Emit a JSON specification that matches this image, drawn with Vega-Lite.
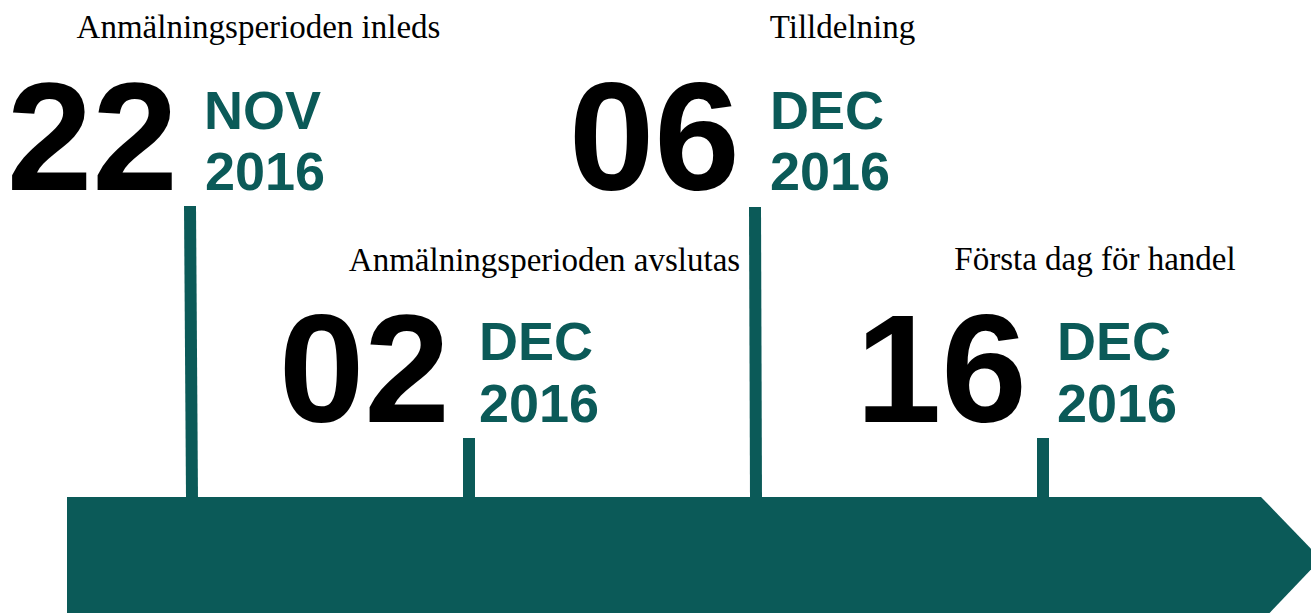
{
  "$schema": "https://vega.github.io/schema/vega-lite/v6.json",
  "width": 1311,
  "height": 613,
  "padding": 0,
  "autosize": {"type": "fit", "contains": "padding"},
  "background": "white",
  "config": {"view": {"stroke": null}},
  "datasets": {
    "arrow": [
      {"x": 67, "top": 497, "bottom": 622},
      {"x": 1261, "top": 497, "bottom": 622},
      {"x": 1321, "top": 559, "bottom": 559}
    ],
    "stems": [
      {"x": 190, "x2": 192, "y": 206, "y2": 498},
      {"x": 469, "x2": 469, "y": 438, "y2": 498},
      {"x": 755, "x2": 756, "y": 207, "y2": 498},
      {"x": 1043, "x2": 1043, "y": 438, "y2": 498}
    ],
    "labels": [
      {"x": 258.5, "y": 38, "text": "Anmälningsperioden inleds"},
      {"x": 544.5, "y": 271, "text": "Anmälningsperioden avslutas"},
      {"x": 842.5, "y": 38, "text": "Tilldelning"},
      {"x": 1095, "y": 270, "text": "Första dag för handel"}
    ],
    "days": [
      {"x": 178, "y": 190, "text": "22"},
      {"x": 450, "y": 422, "text": "02"},
      {"x": 740, "y": 190, "text": "06"},
      {"x": 1027, "y": 422, "text": "16"}
    ],
    "months": [
      {"x": 204, "y": 129, "text": "NOV"},
      {"x": 479, "y": 360, "text": "DEC"},
      {"x": 770, "y": 129, "text": "DEC"},
      {"x": 1057, "y": 360, "text": "DEC"}
    ],
    "years": [
      {"x": 205, "y": 190, "text": "2016"},
      {"x": 479, "y": 422, "text": "2016"},
      {"x": 770, "y": 190, "text": "2016"},
      {"x": 1057, "y": 422, "text": "2016"}
    ]
  },
  "layer": [
    {
      "data": {"name": "arrow"},
      "mark": {"type": "area", "color": "#0b5a58", "clip": true, "interpolate": "linear"},
      "encoding": {
        "x": {"field": "x", "type": "quantitative", "scale": {"domain": [0, 1311], "nice": false, "zero": false}, "axis": null},
        "y": {"field": "top", "type": "quantitative", "scale": {"domain": [0, 613], "nice": false, "zero": false, "reverse": true}, "axis": null},
        "y2": {"field": "bottom"}
      }
    },
    {
      "data": {"name": "stems"},
      "mark": {"type": "rule", "color": "#0b5a58", "strokeWidth": 12, "strokeCap": "butt"},
      "encoding": {
        "x": {"field": "x", "type": "quantitative"},
        "x2": {"field": "x2"},
        "y": {"field": "y", "type": "quantitative"},
        "y2": {"field": "y2"}
      }
    },
    {
      "data": {"name": "labels"},
      "mark": {"type": "text", "font": "Liberation Serif", "fontSize": 33, "color": "#000000", "align": "center", "baseline": "alphabetic"},
      "encoding": {
        "x": {"field": "x", "type": "quantitative"},
        "y": {"field": "y", "type": "quantitative"},
        "text": {"field": "text"}
      }
    },
    {
      "data": {"name": "days"},
      "mark": {"type": "text", "font": "Liberation Sans", "fontWeight": "bold", "fontSize": 154, "color": "#000000", "align": "right", "baseline": "alphabetic"},
      "encoding": {
        "x": {"field": "x", "type": "quantitative"},
        "y": {"field": "y", "type": "quantitative"},
        "text": {"field": "text"}
      }
    },
    {
      "data": {"name": "months"},
      "mark": {"type": "text", "font": "Liberation Sans", "fontWeight": "bold", "fontSize": 54, "color": "#0b5a58", "align": "left", "baseline": "alphabetic"},
      "encoding": {
        "x": {"field": "x", "type": "quantitative"},
        "y": {"field": "y", "type": "quantitative"},
        "text": {"field": "text"}
      }
    },
    {
      "data": {"name": "years"},
      "mark": {"type": "text", "font": "Liberation Sans", "fontWeight": "bold", "fontSize": 54, "color": "#0b5a58", "align": "left", "baseline": "alphabetic"},
      "encoding": {
        "x": {"field": "x", "type": "quantitative"},
        "y": {"field": "y", "type": "quantitative"},
        "text": {"field": "text"}
      }
    }
  ]
}
